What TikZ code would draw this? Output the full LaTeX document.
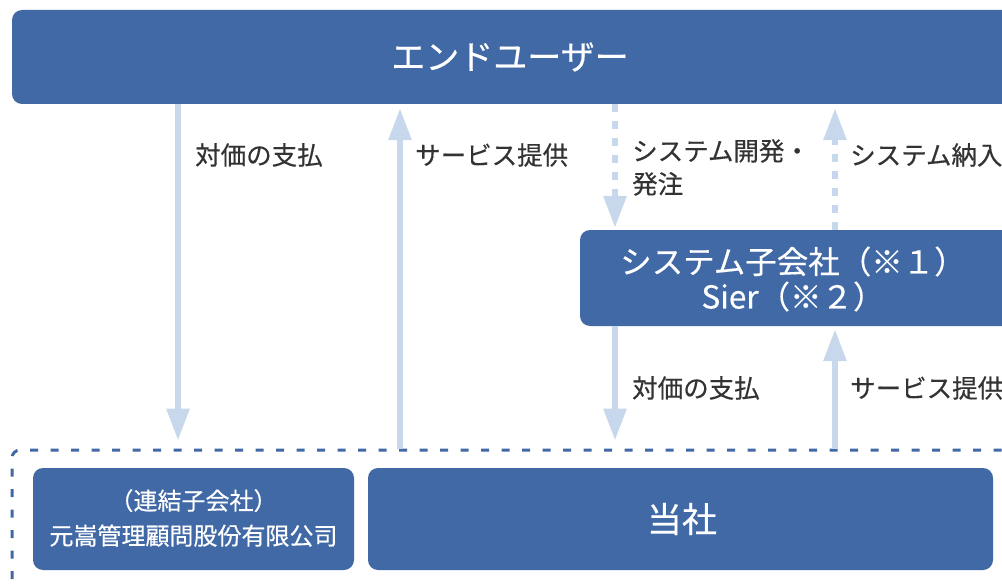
\documentclass[tikz,border=0pt]{standalone}
\usepackage{fontspec}
\setmainfont{Noto Sans CJK JP}
\newfontfamily\medfont{Noto Sans CJK JP}[FakeBold=0.4]
\usetikzlibrary{arrows.meta,calc}
\definecolor{dblue}{HTML}{4069A6}
\definecolor{lblue}{HTML}{C8D8EC}
\definecolor{tgray}{HTML}{333333}
\begin{document}
\begin{tikzpicture}[x=1pt,y=-1pt,
 box/.style={fill=dblue, rounded corners=10pt, inner sep=0pt},
 wtext/.style={text=white, align=center, inner sep=0pt},
 lbl/.style={anchor=west, inner sep=0pt, text=tgray, font=\medfont\fontsize{25.5}{33}\selectfont, align=left},
 flow/.style={draw=lblue, line width=6pt, -{Triangle[width=22pt,length=32pt]}},
 dflow/.style={flow, dash pattern=on 8pt off 9pt},
]
\useasboundingbox (0,0) rectangle (1002,586);
\fill[white] (0,0) rectangle (1002,586);

% boxes
\node[box, minimum width=1006pt, minimum height=94pt] (eu) at (515,57) {};
\node[wtext, font=\medfont\fontsize{34}{36}\selectfont] (eut) at (510,57) {エンドユーザー};

\node[box, minimum width=432pt, minimum height=96pt] (sys) at (796,278) {};
\node[wtext, font=\medfont\fontsize{31.5}{35}\selectfont] (syst) at (793,279) {システム子会社（※１）\\Sier（※２）};

\node[draw=dblue, line width=3pt, dash pattern=on 8pt off 12.5pt, rounded corners=8pt,
      minimum width=1018pt, minimum height=171pt, inner sep=0pt] (grp) at (521,535.5) {};

\node[box, minimum width=321pt, minimum height=102pt] (sub) at (193.5,519) {};
\node[wtext, font=\medfont\fontsize{24}{35}\selectfont] (subt) at (193.5,518) {（連結子会社）\\元嵩管理顧問股份有限公司};

\node[box, minimum width=625pt, minimum height=102pt] (own) at (680.5,519) {};
\node[wtext, font=\medfont\fontsize{35}{36}\selectfont] (ownt) at (682,519) {当社};

% arrow columns
\coordinate (c1) at (178,0);
\coordinate (c2) at (400,0);
\coordinate (c3) at (615,0);
\coordinate (c4) at (835,0);

\draw[flow, shorten >=8pt] (eu.south -| c1) -- (grp.north -| c1);
\draw[flow, shorten >=4pt] (grp.north -| c2) -- (eu.south -| c2);
\draw[dflow, shorten >=2pt] (eu.south -| c3) -- (sys.north -| c3);
\draw[dflow, shorten >=4pt] (sys.north -| c4) -- (eu.south -| c4);
\draw[flow, shorten >=8pt] (sys.south -| c3) -- (grp.north -| c3);
\draw[flow, shorten >=3pt] (grp.north -| c4) -- (sys.south -| c4);

% labels
\node[lbl] (l1) at (195,155) {対価の支払};
\node[lbl] (l2) at (415,155) {サービス提供};
\node[lbl, anchor=north west] (l3) at (632,139) {システム開発・\\発注};
\node[lbl] (l4) at (850,155) {システム納入};
\node[lbl] (l5) at (632,388) {対価の支払};
\node[lbl] (l6) at (850,388) {サービス提供};
\end{tikzpicture}
\end{document}
